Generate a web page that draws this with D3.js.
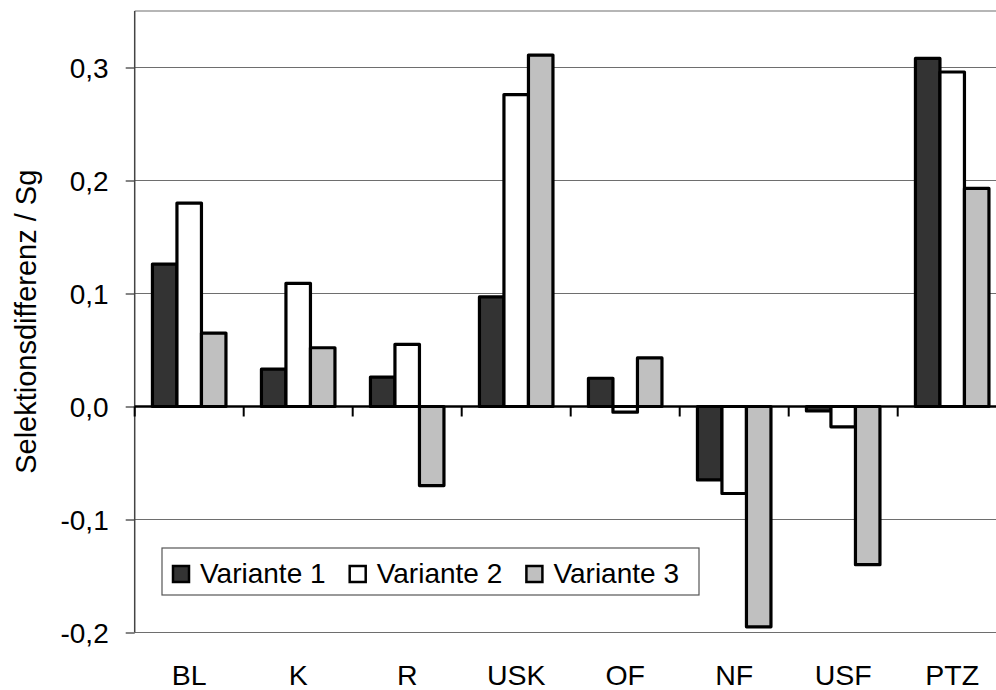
<html>
  <head>
    <script src="https://d3js.org/d3.v7.min.js"></script>
    <style>
      body {
        margin: 0;
        background: #fff;
      }
      text {
        font-family: Arial, "Liberation Sans", sans-serif;
        fill: #000;
      }
    </style>
  </head>
  <body>
    <svg id="chart" width="996" height="690"></svg>
    <script>
      // categories and series
      const categories = ["BL", "K", "R", "USK", "OF", "NF", "USF", "PTZ"];
      const seriesNames = ["Variante 1", "Variante 2", "Variante 3"];
      const variante1 = [0.126, 0.033, 0.026, 0.097, 0.025, -0.065, -0.004, 0.308];
      const variante2 = [0.180, 0.109, 0.055, 0.276, -0.005, -0.077, -0.018, 0.296];
      const variante3 = [0.065, 0.052, -0.070, 0.311, 0.043, -0.195, -0.140, 0.193];
      const yTicks = [-0.2, -0.1, 0.0, 0.1, 0.2, 0.3];

      const seriesValues = [variante1, variante2, variante3];
      const fills = ["#333333", "#ffffff", "#c0c0c0"];

      const svg = d3.select("svg#chart");
      const margins = { top: 11, left: 134.7, bottom: 632.5 };
      const bandW = 109;

      const xScale = d3
        .scaleBand()
        .domain(categories)
        .range([margins.left, margins.left + bandW * categories.length])
        .paddingInner(0)
        .paddingOuter(0);

      // three bars per group, 150% gap
      const xInner = d3
        .scaleBand()
        .domain(seriesNames)
        .range([0, xScale.bandwidth()])
        .paddingInner(0)
        .paddingOuter(0.724);

      const yScale = d3
        .scaleLinear()
        .domain([-0.2, 0.35])
        .range([margins.bottom, margins.top]);

      const fmt = (d) => d3.format(".1f")(d).replace(".", ",").replace("−", "-");

      // gridlines
      svg
        .append("g")
        .selectAll("line")
        .data(yTicks)
        .join("line")
        .attr("x1", margins.left)
        .attr("x2", 996)
        .attr("y1", (d) => yScale(d))
        .attr("y2", (d) => yScale(d))
        .attr("stroke", "#6e6e6e")
        .attr("stroke-width", 1.2);

      // top border
      svg
        .append("line")
        .attr("x1", margins.left)
        .attr("x2", 996)
        .attr("y1", margins.top)
        .attr("y2", margins.top)
        .attr("stroke", "#6e6e6e")
        .attr("stroke-width", 1.2);

      // y axis
      const yAxis = d3
        .axisLeft(yScale)
        .tickValues(yTicks)
        .tickSize(9)
        .tickPadding(17)
        .tickFormat(fmt);

      const yG = svg
        .append("g")
        .attr("transform", `translate(${margins.left},0)`)
        .call(yAxis);
      yG.select(".domain").remove();
      yG.selectAll(".tick line").attr("stroke", "#333").attr("stroke-width", 1.2);
      yG.selectAll(".tick text")
        .style("font-size", "28px")
        .attr("dy", "0.36em")
        .style("font-family", "Arial, 'Liberation Sans', sans-serif");

      svg
        .append("line")
        .attr("x1", margins.left)
        .attr("x2", margins.left)
        .attr("y1", margins.top)
        .attr("y2", margins.bottom)
        .attr("stroke", "#444")
        .attr("stroke-width", 1.5);

      // bars
      const groups = svg
        .append("g")
        .selectAll("g")
        .data(categories)
        .join("g")
        .attr("transform", (c) => `translate(${xScale(c)},0)`);

      groups
        .selectAll("rect")
        .data((c, i) =>
          seriesNames.map((s, j) => ({ s: s, j: j, v: seriesValues[j][i] }))
        )
        .join("rect")
        .attr("x", (d) => xInner(d.s))
        .attr("width", xInner.bandwidth())
        .attr("y", (d) => yScale(Math.max(0, d.v)))
        .attr("height", (d) => Math.abs(yScale(d.v) - yScale(0)))
        .attr("fill", (d) => fills[d.j])
        .attr("stroke", "#000")
        .attr("stroke-width", 3.2)
        .attr("stroke-linejoin", "round");

      // zero axis with category ticks
      const xG = svg.append("g").attr("transform", `translate(0,${yScale(0)})`);
      xG.append("line")
        .attr("x1", margins.left)
        .attr("x2", 996)
        .attr("stroke", "#000")
        .attr("stroke-width", 2.5);
      xG.selectAll("line.bt")
        .data(d3.range(categories.length + 1))
        .join("line")
        .attr("class", "bt")
        .attr("x1", (k) => margins.left + k * bandW)
        .attr("x2", (k) => margins.left + k * bandW)
        .attr("y1", 0)
        .attr("y2", 10)
        .attr("stroke", "#000")
        .attr("stroke-width", 2);

      // category labels
      svg
        .append("g")
        .selectAll("text")
        .data(categories)
        .join("text")
        .attr("x", (c) => xScale(c) + xScale.bandwidth() / 2)
        .attr("y", 685)
        .attr("text-anchor", "middle")
        .style("font-size", "28.5px")
        .text((c) => c);

      // y title
      svg
        .append("text")
        .attr("transform", `translate(36,${(margins.top + margins.bottom) / 2}) rotate(-90)`)
        .attr("text-anchor", "middle")
        .style("font-size", "29px")
        .text("Selektionsdifferenz / Sg");

      // legend
      const legend = svg.append("g").attr("transform", "translate(162,548)");
      legend
        .append("rect")
        .attr("width", 537)
        .attr("height", 47)
        .attr("fill", "#fff")
        .attr("stroke", "#555")
        .attr("stroke-width", 1.2);

      const items = legend
        .selectAll("g.item")
        .data(seriesNames)
        .join("g")
        .attr("class", "item")
        .attr("transform", (d, i) => `translate(${10 + i * 176.7},0)`);

      items
        .append("rect")
        .attr("x", 1)
        .attr("y", 18)
        .attr("width", 16)
        .attr("height", 16)
        .attr("fill", (d, i) => fills[i])
        .attr("stroke", "#000")
        .attr("stroke-width", 2.5);

      items
        .append("text")
        .attr("x", 28)
        .attr("y", 35)
        .style("font-size", "28px")
        .text((d) => d);
    </script>
  </body>
</html>
